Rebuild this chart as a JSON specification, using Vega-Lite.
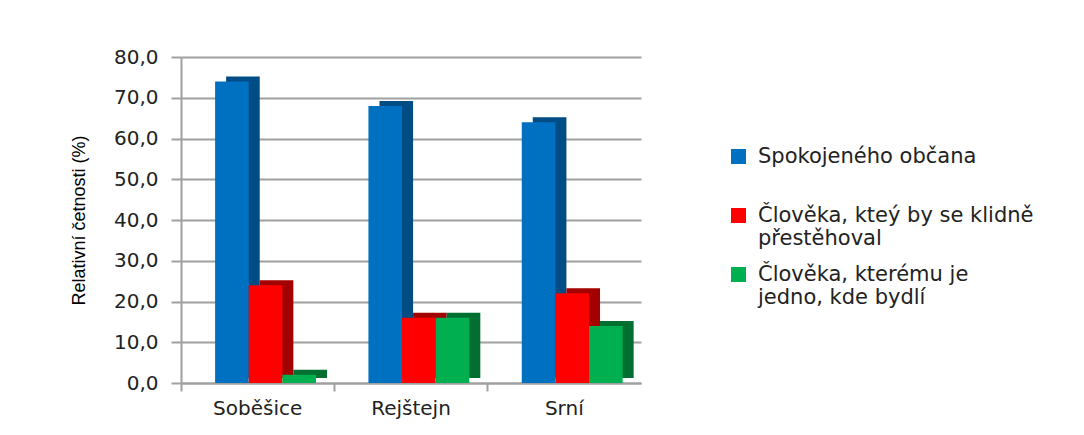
{
  "$schema": "https://vega.github.io/schema/vega-lite/v6.json",
  "width": 460,
  "height": 326,
  "autosize": "none",
  "padding": {"left": 181, "top": 57, "right": 443, "bottom": 52},
  "background": "white",
  "config": {"view": {"stroke": null}, "font": "DejaVu Sans"},
  "data": {
    "values": [
      {"obec": "Soběšice", "skupina": "Spokojeného občana", "hodnota": 74},
      {"obec": "Soběšice", "skupina": "Člověka, kteý by se klidně přestěhoval", "hodnota": 24},
      {"obec": "Soběšice", "skupina": "Člověka, kterému je jedno, kde bydlí", "hodnota": 2},
      {"obec": "Rejštejn", "skupina": "Spokojeného občana", "hodnota": 68},
      {"obec": "Rejštejn", "skupina": "Člověka, kteý by se klidně přestěhoval", "hodnota": 16},
      {"obec": "Rejštejn", "skupina": "Člověka, kterému je jedno, kde bydlí", "hodnota": 16},
      {"obec": "Srní", "skupina": "Spokojeného občana", "hodnota": 64},
      {"obec": "Srní", "skupina": "Člověka, kteý by se klidně přestěhoval", "hodnota": 22},
      {"obec": "Srní", "skupina": "Člověka, kterému je jedno, kde bydlí", "hodnota": 14}
    ]
  },
  "encoding": {
    "y": {
      "field": "hodnota",
      "type": "quantitative",
      "scale": {"domain": [0, 80], "nice": false},
      "axis": {
        "title": "Relativní četnosti (%)",
        "titleFont": "Liberation Sans",
        "titleFontSize": 18,
        "titleFontWeight": "normal",
        "titleColor": "#000",
        "titlePadding": 25,
        "values": [0, 10, 20, 30, 40, 50, 60, 70, 80],
        "labelExpr": "replace(format(datum.value, '.1f'), '.', ',')",
        "labelFontSize": 20,
        "labelColor": "#222",
        "labelPadding": 13,
        "tickSize": 10,
        "tickColor": "#a0a0a0",
        "tickWidth": 2,
        "domainColor": "#a0a0a0",
        "domainWidth": 2,
        "gridColor": "#a0a0a0",
        "gridWidth": 2
      }
    }
  },
  "layer": [
    {
      "mark": {"type": "bar", "yOffset": -5},
      "encoding": {
        "x": {
          "field": "obec",
          "type": "nominal",
          "sort": ["Soběšice", "Rejštejn", "Srní"],
          "scale": {"paddingInner": 0, "paddingOuter": 0},
          "axis": {
            "title": null,
            "orient": "bottom",
            "labelAngle": 0,
            "labelFontSize": 20,
            "labelColor": "#222",
            "labelPadding": 15,
            "ticks": false,
            "domainColor": "#a0a0a0",
            "domainWidth": 2
          }
        },
        "xOffset": {
          "field": "skupina",
          "type": "nominal",
          "sort": ["Spokojeného občana", "Člověka, kteý by se klidně přestěhoval", "Člověka, kterému je jedno, kde bydlí"],
          "scale": {"paddingOuter": 0.78, "paddingInner": 0, "align": 0.86}
        },
        "color": {
          "field": "skupina",
          "type": "nominal",
          "scale": {
            "domain": ["Spokojeného občana", "Člověka, kteý by se klidně přestěhoval", "Člověka, kterému je jedno, kde bydlí"],
            "range": ["#004c85", "#a30000", "#006f30"]
          },
          "legend": null
        }
      }
    },
    {
      "mark": {"type": "bar"},
      "encoding": {
        "x": {
          "field": "obec",
          "type": "nominal",
          "sort": ["Soběšice", "Rejštejn", "Srní"],
          "scale": {"paddingInner": 0, "paddingOuter": 0},
          "axis": {
            "title": null,
            "orient": "bottom",
            "labels": false,
            "bandPosition": 0,
            "ticks": true,
            "tickSize": 8,
            "tickColor": "#a0a0a0",
            "tickWidth": 2,
            "domain": false,
            "grid": false
          }
        },
        "xOffset": {
          "field": "skupina",
          "type": "nominal",
          "sort": ["Spokojeného občana", "Člověka, kteý by se klidně přestěhoval", "Člověka, kterému je jedno, kde bydlí"],
          "scale": {"paddingOuter": 0.78, "paddingInner": 0, "align": 0.65}
        },
        "color": {
          "field": "skupina",
          "type": "nominal",
          "scale": {
            "domain": ["Spokojeného občana", "Člověka, kteý by se klidně přestěhoval", "Člověka, kterému je jedno, kde bydlí"],
            "range": ["#0070c0", "#ff0000", "#00b050"]
          },
          "legend": {
            "title": null,
            "orient": "none",
            "legendX": 547,
            "legendY": 89,
            "symbolType": "square",
            "symbolSize": 225,
            "symbolStrokeWidth": 0,
            "labelFontSize": 21,
            "labelColor": "#222",
            "labelLimit": 400,
            "labelOffset": 9,
            "labelLineHeight": 24,
            "rowPadding": 14,
            "labelExpr": "datum.label == 'Člověka, kteý by se klidně přestěhoval' ? ['Člověka, kteý by se klidně', 'přestěhoval'] : datum.label == 'Člověka, kterému je jedno, kde bydlí' ? ['Člověka, kterému je', 'jedno, kde bydlí'] : [datum.label, ' ']"
          }
        }
      }
    }
  ],
  "resolve": {"scale": {"color": "independent", "xOffset": "independent"}, "axis": {"x": "independent"}}
}
